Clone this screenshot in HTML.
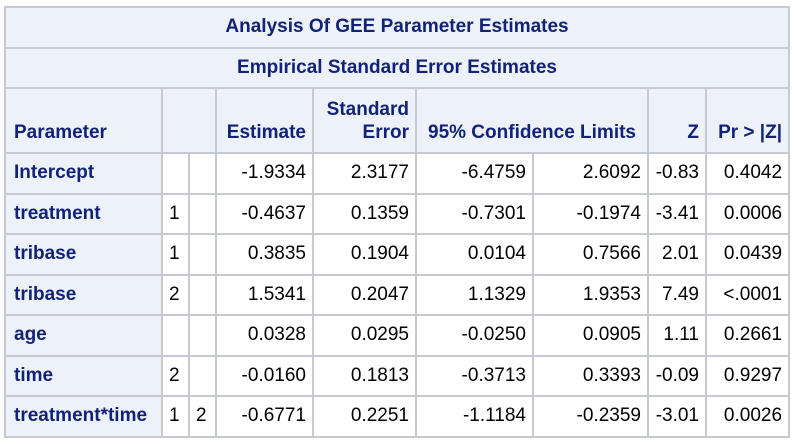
<!DOCTYPE html>
<html><head><meta charset="utf-8"><style>
html,body{margin:0;padding:0;background:#fff;width:795px;height:444px;overflow:hidden}
table{position:absolute;left:4px;top:6px;border-collapse:collapse;table-layout:fixed;font-family:"Liberation Sans",Arial,sans-serif;font-size:19px;width:784px}
td,th{border:2px solid #c6cad0;padding:0 6px;white-space:nowrap;overflow:hidden;box-sizing:border-box}
th{background:#edf2f9;color:#112277;font-weight:bold}
.t{text-align:center;height:40.5px}
.h th{vertical-align:bottom;padding-bottom:8px;text-align:right;line-height:23px}
td{color:#000;text-align:right;height:40.5px}
td.p{background:#edf2f9;color:#112277;font-weight:bold;text-align:left;padding-left:8px}
td.c{text-align:left}
</style></head><body>
<table>
<colgroup><col style="width:157px"><col style="width:27px"><col style="width:27px"><col style="width:97px"><col style="width:103px"><col style="width:117px"><col style="width:115px"><col style="width:58px"><col style="width:83px"></colgroup>
<tr><th colspan="9" class="t">Analysis Of GEE Parameter Estimates</th></tr>
<tr><th colspan="9" class="t">Empirical Standard Error Estimates</th></tr>
<tr class="h" style="height:65px">
<th style="text-align:left;padding-left:8px">Parameter</th>
<th colspan="2"></th>
<th>Estimate</th>
<th>Standard<br>Error</th>
<th colspan="2" style="text-align:center">95% Confidence Limits</th>
<th>Z</th>
<th>Pr &gt; |Z|</th></tr>
<tr><td class="p">Intercept</td><td class="c"></td><td class="c"></td><td>-1.9334</td><td>2.3177</td><td>-6.4759</td><td>2.6092</td><td>-0.83</td><td>0.4042</td></tr>
<tr><td class="p">treatment</td><td class="c">1</td><td class="c"></td><td>-0.4637</td><td>0.1359</td><td>-0.7301</td><td>-0.1974</td><td>-3.41</td><td>0.0006</td></tr>
<tr><td class="p">tribase</td><td class="c">1</td><td class="c"></td><td>0.3835</td><td>0.1904</td><td>0.0104</td><td>0.7566</td><td>2.01</td><td>0.0439</td></tr>
<tr><td class="p">tribase</td><td class="c">2</td><td class="c"></td><td>1.5341</td><td>0.2047</td><td>1.1329</td><td>1.9353</td><td>7.49</td><td>&lt;.0001</td></tr>
<tr><td class="p">age</td><td class="c"></td><td class="c"></td><td>0.0328</td><td>0.0295</td><td>-0.0250</td><td>0.0905</td><td>1.11</td><td>0.2661</td></tr>
<tr><td class="p">time</td><td class="c">2</td><td class="c"></td><td>-0.0160</td><td>0.1813</td><td>-0.3713</td><td>0.3393</td><td>-0.09</td><td>0.9297</td></tr>
<tr><td class="p">treatment*time</td><td class="c">1</td><td class="c">2</td><td>-0.6771</td><td>0.2251</td><td>-1.1184</td><td>-0.2359</td><td>-3.01</td><td>0.0026</td></tr>
</table>
</body></html>
